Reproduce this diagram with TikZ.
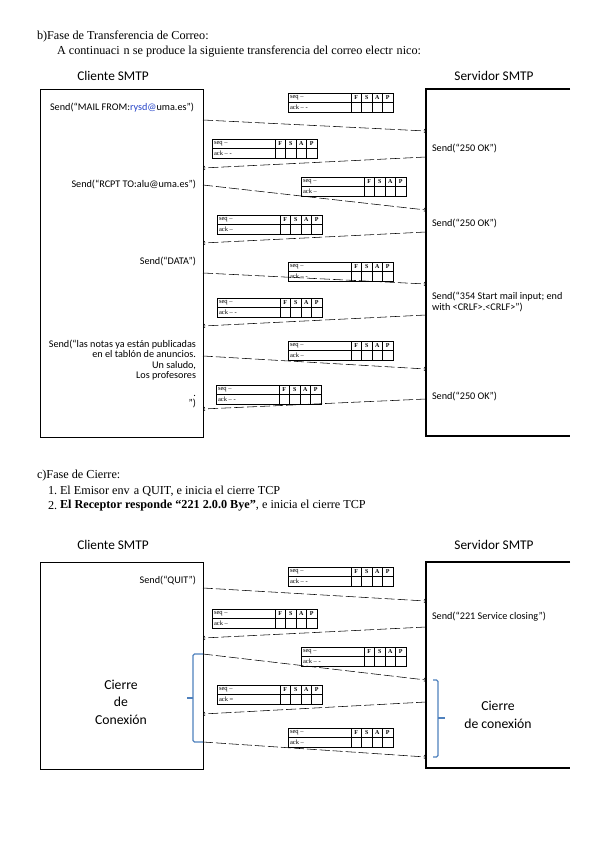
\documentclass[tikz,border=0pt]{standalone}
\usepackage{fontspec}
\setmainfont{Liberation Serif}
\newfontfamily\calib{Carlito}
\usetikzlibrary{positioning}
\usetikzlibrary{calc}
\definecolor{braceblue}{RGB}{79,129,189}
\definecolor{linkblue}{RGB}{40,70,200}

\newcommand{\segbox}[4]{%
  \draw[segline] #2 rectangle +(105,19);
  \draw[segline] #2 ++(0,9.5) -- +(105,0);
  \foreach \cx in {63,73.5,84,94.5}
    \draw[segline] #2 ++(\cx,0) -- +(0,19);
  \node[segtxt] (#1-seq) at ($#2+(2,4.75)$) {#3};
  \node[segtxt] (#1-ack) at ($#2+(2,14.25)$) {#4};
  \foreach \fl [count=\i] in {F,S,A,P}
    \node[flag] (#1-\fl) at ($#2+(57.75+10.5*\i,4.75)$) {\fl};
}

\begin{document}
\begin{tikzpicture}[x=1pt, y=-1pt,
    every node/.style={inner sep=0pt, outer sep=0pt},
    rmtxt/.style={font=\fontsize{12.2}{14}\selectfont, anchor=west},
    hdr/.style={font=\calib\fontsize{13.3}{15}\selectfont},
    lbl/.style={font=\calib\fontsize{10.2}{10.3}\selectfont},
    big/.style={font=\calib\fontsize{13.7}{17.5}\selectfont, align=center},
    hostbox/.style={draw, line width=0.9pt, minimum width=163, anchor=north west},
    srvline/.style={draw, line width=1.2pt},
    msg/.style={->, dash pattern=on 10pt off 3pt, line width=0.55pt},
    segline/.style={line width=0.4pt},
    segtxt/.style={font=\fontsize{6.5}{7}\selectfont, anchor=west},
    flag/.style={font=\bfseries\fontsize{6}{7}\selectfont},
    brace/.style={draw=braceblue, line width=1.3pt, rounded corners=1.5pt},
  ]
    \useasboundingbox (0,0) rectangle (603,848);

    \node[rmtxt] (titb) at (37,37) {b)Fase de Transferencia de Correo:};
    \node[rmtxt] (introb) at (57,52) {A continuaci\hspace{4pt}n se produce la siguiente transferencia del correo electr\hspace{4pt}nico:};

    \node[hdr] (clib) at (113,76) {Cliente SMTP};
    \node[hdr] (srvb) at (494,76) {Servidor SMTP};

    \node[hostbox, minimum height=348] (clibox) at (40,89) {};
    \draw[srvline] (570,89) -- (426,89) -- (426,436) -- (570,436);

    \segbox{sb1}{(288,93)}{seq –}{ack – -}
    \segbox{sb2}{(212,139)}{seq –}{ack – -}
    \segbox{sb3}{(301,177)}{seq –}{ack –}
    \segbox{sb4}{(217,215)}{seq –}{ack –}
    \segbox{sb5}{(288,262)}{seq –}{ack – -}
    \segbox{sb6}{(217,298)}{seq –}{ack – -}
    \segbox{sb7}{(288,341)}{seq –}{ack –}
    \segbox{sb8}{(216,385)}{seq –}{ack – -}

    \node[lbl, anchor=east] (mail) at (194,108) {Send(“MAIL FROM:{\color{linkblue}rysd@}uma.es”)};
    \node[lbl, anchor=east] (rcpt) at (196,184) {Send(“RCPT TO:alu@uma.es”)};
    \node[lbl, anchor=east] (data) at (196,261) {Send(“DATA”)};
    \node[lbl, anchor=north east, align=right] (body) at (196,340) {Send(“las notas ya están publicadas\\ en el tablón de anuncios.\\ Un saludo,\\ Los profesores\\[7.5pt] .\\ ”)};

    \node[lbl, anchor=west] (ok1) at (432,148) {Send(“250 OK”)};
    \node[lbl, anchor=west] (ok2) at (432,223) {Send(“250 OK”)};
    \node[lbl, anchor=west, align=left] (start) at (432,302) {Send(“354 Start mail input; end\\ with <CRLF>.<CRLF>”)};
    \node[lbl, anchor=west] (ok3) at (432,396) {Send(“250 OK”)};

    \coordinate (m1a) at (203,120); \coordinate (m1b) at (426,131);
    \coordinate (m2a) at (426,157); \coordinate (m2b) at (203,168);
    \coordinate (m3a) at (203,185); \coordinate (m3b) at (426,210);
    \coordinate (m4a) at (426,232); \coordinate (m4b) at (203,243);
    \coordinate (m5a) at (203,273); \coordinate (m5b) at (426,284);
    \coordinate (m6a) at (426,315); \coordinate (m6b) at (203,326);
    \coordinate (m7a) at (203,356); \coordinate (m7b) at (426,369);
    \coordinate (m8a) at (426,399); \coordinate (m8b) at (203,409);

    \draw[msg] (m1a) -- (m1b);
    \draw[msg] (m2a) -- (m2b);
    \draw[msg] (m3a) -- (m3b);
    \draw[msg] (m4a) -- (m4b);
    \draw[msg] (m5a) -- (m5b);
    \draw[msg] (m6a) -- (m6b);
    \draw[msg] (m7a) -- (m7b);
    \draw[msg] (m8a) -- (m8b);

    \node[rmtxt] (titc) at (37,476) {c)Fase de Cierre:};
    \node[rmtxt] (n1) at (48,491) {1.};
    \node[rmtxt] (step1) at (60,491) {El Emisor env\hspace{4pt}a QUIT, e inicia el cierre TCP};
    \node[rmtxt] (n2) at (48,506) {2.};
    \node[rmtxt] (step2) at (60,506) {\textbf{El Receptor responde “221 2.0.0 Bye”}, e inicia el cierre TCP};

    \node[hdr] (clic) at (113,545) {Cliente SMTP};
    \node[hdr] (srvc) at (494,545) {Servidor SMTP};

    \node[hostbox, minimum height=207] (clicbox) at (40,562) {};
    \draw[srvline] (570,562) -- (426,562) -- (426,768) -- (570,768);

    \segbox{sc1}{(288,567)}{seq –}{ack – -}
    \segbox{sc2}{(212,609)}{seq –}{ack –}
    \segbox{sc3}{(301,647)}{seq –}{ack – -}
    \segbox{sc4}{(217,685)}{seq –}{ack =}
    \segbox{sc5}{(288,728)}{seq –}{ack –}

    \node[lbl, anchor=east] (quit) at (196,580) {Send(“QUIT”)};
    \node[lbl, anchor=west] (bye) at (432,617) {Send(“221 Service closing”)};

    \node[big] (cierrel) at (121,702) {Cierre\\ de\\ Conexión};
    \node[big] (cierrer) at (498,715) {Cierre\\ de conexión};

    \coordinate (c1a) at (203,588); \coordinate (c1b) at (426,601);
    \coordinate (c2a) at (426,627); \coordinate (c2b) at (203,638);
    \coordinate (c3a) at (203,654); \coordinate (c3b) at (426,680);
    \coordinate (c4a) at (426,702); \coordinate (c4b) at (203,714);
    \coordinate (c5a) at (203,742); \coordinate (c5b) at (426,757);

    \draw[msg] (c1a) -- (c1b);
    \draw[msg] (c2a) -- (c2b);
    \draw[msg] (c3a) -- (c3b);
    \draw[msg] (c4a) -- (c4b);
    \draw[msg] (c5a) -- (c5b);

    \draw[brace] (c3a) -- (193,654) -- (193,742) -- (c5a);
    \draw[brace] (193,698) -- (187,698);
    \draw[brace] (433,680) -- (438,680) -- (438,757) -- (433,757);
    \draw[brace] (438,718) -- (445,718);
\end{tikzpicture}
\end{document}
